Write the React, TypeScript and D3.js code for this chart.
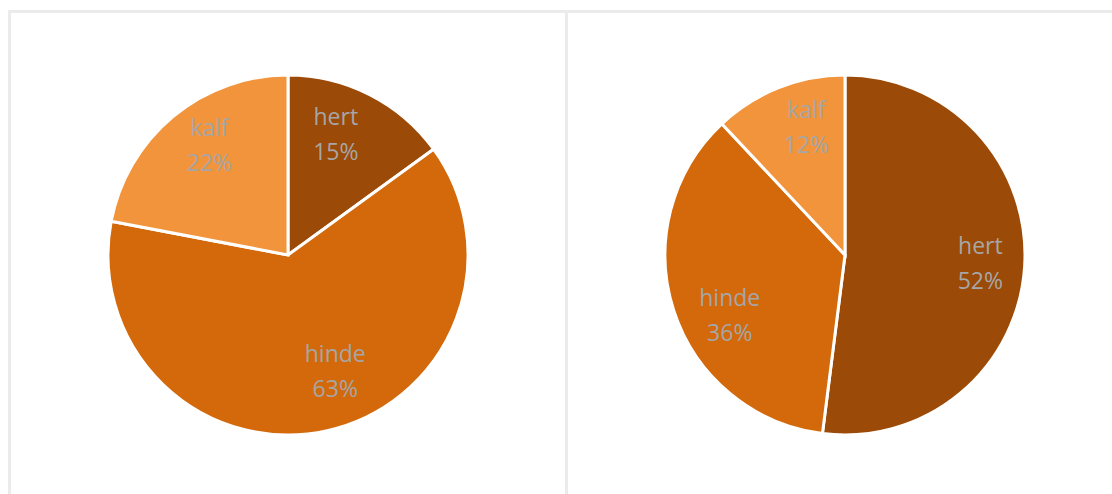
import React from "react";
import * as d3 from "d3";

const categories = ["hert", "hinde", "kalf"];
const leftValues = [15, 63, 22];
const rightValues = [52, 36, 12];
const colors = ["#9C4A07", "#D3690A", "#F2943B"];

// small label placement adjustments (Excel best-fit look)
const leftNudge = [[-11, -5], [19, -10], [4, -10]];
const rightNudge = [[6, 0], [8, 20], [9, -7]];

const W = 1112;
const H = 494;
const R = 180;

function Pie({ cx, cy, values, nudge }: { cx: number; cy: number; values: number[]; nudge: number[][] }) {
  const data = categories.map((c, i) => ({ name: c, value: values[i], color: colors[i] }));
  const pie = d3.pie<any>().value((d) => d.value).sort(null);
  const arcs = pie(data);
  const arc = d3.arc<any>().innerRadius(0).outerRadius(R);
  const labelArc = d3.arc<any>().innerRadius(R * 0.72).outerRadius(R * 0.72);
  return (
    <g transform={`translate(${cx},${cy})`}>
      {arcs.map((a, i) => (
        <path key={i} d={arc(a) as string} fill={a.data.color} stroke="#ffffff" strokeWidth={3} strokeLinejoin="miter" />
      ))}
      {arcs.map((a, i) => {
        const [x0, y0] = labelArc.centroid(a);
        const x = x0 + nudge[i][0];
        const y = y0 + nudge[i][1];
        return (
          <text key={"t" + i} x={x} y={y} textAnchor="middle" fill="#A6A6A6"
            fontFamily="'Open Sans', 'Noto Sans', sans-serif" fontSize={23}>
            <tspan x={x} dy={-9.5}>{a.data.name}</tspan>
            <tspan x={x} dy={35}>{`${a.data.value}%`}</tspan>
          </text>
        );
      })}
    </g>
  );
}

export default function App() {
  return (
    <svg width={W} height={H} style={{ position: "absolute", left: 0, top: 0, display: "block", background: "#fff" }}>
      <rect x={0} y={0} width={W} height={H} fill="#ffffff" />
      <rect x={8} y={10} width={W - 8} height={3} fill="#EBEBEB" />
      <rect x={8} y={10} width={3} height={H - 10} fill="#EBEBEB" />
      <rect x={565} y={10} width={3} height={H - 10} fill="#EBEBEB" />
      <Pie cx={288} cy={255} values={leftValues} nudge={leftNudge} />
      <Pie cx={845} cy={255} values={rightValues} nudge={rightNudge} />
    </svg>
  );
}
